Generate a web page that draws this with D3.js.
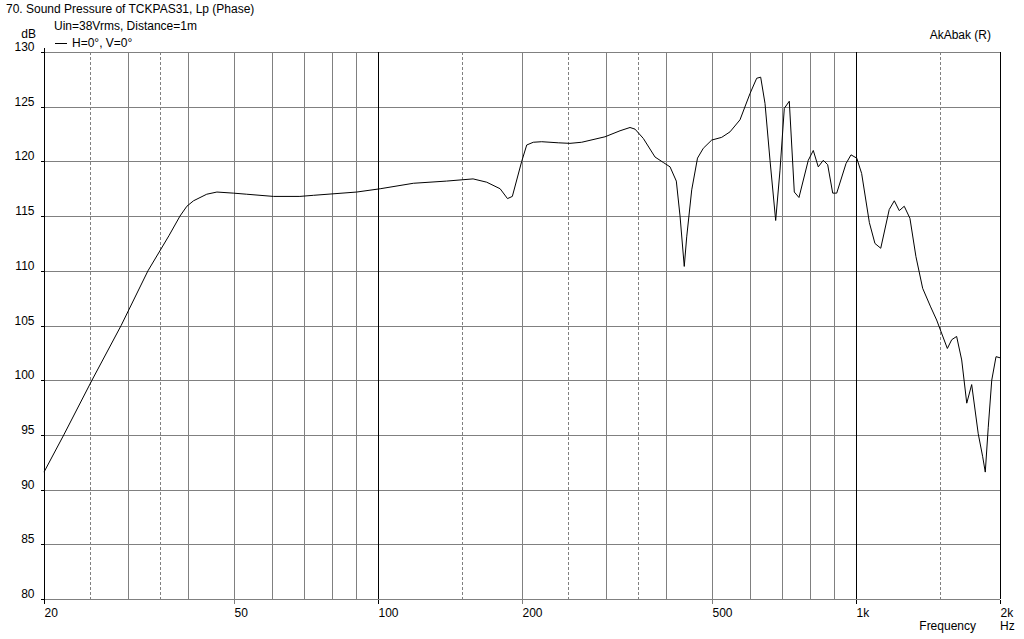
<!DOCTYPE html>
<html>
<head>
<meta charset="utf-8">
<script src="https://cdn.jsdelivr.net/npm/d3@7"></script>
<style>
  html, body { margin: 0; padding: 0; background: #fff; }
  svg { display: block; font-family: "Liberation Sans", Arial, sans-serif; font-size: 12px; }
</style>
</head>
<body>
<svg id="chart" width="1024" height="639"></svg>
<script>
// ---- data ----
const freq = [20, 22.0, 25.2, 29.0, 33.0, 36.5, 38.5, 39.8, 41.1, 43.8, 46.0, 49.8, 53.1, 60.4, 68.6, 73.2, 90.2, 101, 118.5, 139, 158, 168.7, 180, 186.5, 190.9, 199.7, 204.6, 211.2, 219.9, 238.2, 252, 266.6, 298.3, 320.7, 336.5, 344.7, 358.8, 379.6, 395.1, 408.1, 420.6, 428.2, 437.0, 442.2, 453.0, 465.8, 479, 498.8, 523.4, 544.7, 571.6, 599.8, 619.5, 631.5, 644.8, 660.5, 678.8, 693.1, 707.6, 724.8, 742.5, 759.4, 794.2, 813.6, 833.4, 853.7, 872, 893.4, 910.8, 952.5, 975.7, 1003, 1027, 1066, 1095, 1126, 1173, 1202, 1231, 1261, 1296, 1334, 1378, 1432, 1474, 1552, 1585, 1623, 1663, 1704, 1745, 1801, 1840, 1863, 1890, 1922, 1962, 2000];
const spl = [91.6, 95.0, 100.0, 105.0, 110.0, 113.2, 115.0, 115.9, 116.4, 117.0, 117.2, 117.1, 117.0, 116.8, 116.8, 116.9, 117.2, 117.5, 118.0, 118.2, 118.4, 118.1, 117.5, 116.6, 116.8, 120.0, 121.5, 121.75, 121.8, 121.7, 121.65, 121.75, 122.25, 122.8, 123.1, 122.95, 122.1, 120.4, 119.9, 119.5, 118.2, 115.0, 110.4, 113.1, 117.4, 120.3, 121.2, 121.95, 122.2, 122.7, 123.8, 126.2, 127.6, 127.7, 125.3, 120.1, 114.6, 119.2, 124.85, 125.5, 117.2, 116.7, 120.1, 121.0, 119.5, 120.1, 119.7, 117.1, 117.1, 119.8, 120.6, 120.3, 118.9, 114.4, 112.5, 112.06, 115.6, 116.4, 115.5, 115.9, 114.8, 111.3, 108.4, 106.7, 105.5, 102.9, 103.7, 104.0, 101.85, 97.9, 99.6, 95.1, 93.0, 91.6, 95.7, 100.0, 102.15, 102.05];

const yTicks = [80, 85, 90, 95, 100, 105, 110, 115, 120, 125, 130];
const xTickValues = [20, 50, 100, 200, 500, 1000, 2000];
const xTickLabels = ["20", "50", "100", "200", "500", "1k", "2k"];
const gridSolid = [30, 40, 50, 60, 70, 80, 90, 200, 300, 400, 500, 600, 700, 800, 900];
const gridDashed = [25, 35, 150, 250, 350, 1500];
const gridMajor = [100, 1000, 2000];

const titleText = "70. Sound Pressure of TCKPAS31, Lp (Phase)";
const subText = "Uin=38Vrms, Distance=1m";
const legendText = "H=0°, V=0°";
const brandText = "AkAbak (R)";

// ---- scales ----
const x = d3.scaleLog().domain([20, 2000]).range([44, 1000]);
const y = d3.scaleLinear().domain([80, 130]).range([599, 52]);
const px = v => Math.round(v) + 0.5;

const svg = d3.select("#chart");
svg.append("rect").attr("width", 1024).attr("height", 639).attr("fill", "#fff");

const grid = svg.append("g").attr("shape-rendering", "crispEdges");

// horizontal grid
grid.selectAll("line.h").data(yTicks).join("line")
  .attr("x1", 44).attr("x2", 1000)
  .attr("y1", d => px(y(d))).attr("y2", d => px(y(d)))
  .attr("stroke", "#808080");

// vertical grid
grid.selectAll("line.vs").data(gridSolid).join("line")
  .attr("x1", d => px(x(d))).attr("x2", d => px(x(d)))
  .attr("y1", y(130)).attr("y2", y(80))
  .attr("stroke", "#808080");
grid.selectAll("line.vd").data(gridDashed).join("line")
  .attr("x1", d => px(x(d))).attr("x2", d => px(x(d)))
  .attr("y1", y(130)).attr("y2", y(80))
  .attr("stroke", "#808080").attr("stroke-dasharray", "3,2");
grid.selectAll("line.vm").data(gridMajor).join("line")
  .attr("x1", d => px(x(d))).attr("x2", d => px(x(d)))
  .attr("y1", y(130)).attr("y2", y(80))
  .attr("stroke", "#000");
// left axis line
grid.append("line").attr("x1", px(44)).attr("x2", px(44))
  .attr("y1", y(130) - 4).attr("y2", y(80) + 4).attr("stroke", "#000");

// y axis
const yAxis = svg.append("g").attr("transform", `translate(${px(44)},0)`)
  .call(d3.axisLeft(y).tickValues(yTicks).tickSize(4).tickPadding(6).tickFormat(d3.format("d")));
yAxis.select(".domain").remove();
yAxis.selectAll(".tick line").attr("stroke", "#000").attr("shape-rendering", "crispEdges");
yAxis.selectAll(".tick").attr("transform", d => `translate(0,${px(y(d))})`);
yAxis.selectAll(".tick text").attr("font-family", "Liberation Sans, Arial, sans-serif")
  .attr("font-size", 12).attr("fill", "#000").attr("dy", "-0.1em").attr("x", -10);

// x axis
const xAxis = svg.append("g").attr("transform", `translate(0,${px(y(80))})`)
  .call(d3.axisBottom(x).tickValues(xTickValues).tickSize(4).tickPadding(6)
    .tickFormat((d, i) => xTickLabels[i]));
xAxis.select(".domain").remove();
xAxis.selectAll(".tick").attr("transform", d => `translate(${px(x(d))},0)`);
xAxis.selectAll(".tick line").attr("shape-rendering", "crispEdges")
  .attr("stroke", d => (d === 100 || d === 1000 || d === 2000 || d === 20) ? "#000" : "#808080");
xAxis.selectAll(".tick text").attr("font-family", "Liberation Sans, Arial, sans-serif")
  .attr("font-size", 12).attr("fill", "#000").attr("text-anchor", "start")
  .attr("x", 0).attr("y", 0).attr("dy", 17);

// curve
const pts = freq.map((f, i) => [f, spl[i]]);
svg.append("path").datum(pts)
  .attr("fill", "none").attr("stroke", "#000").attr("stroke-width", 1)
  .attr("stroke-linejoin", "round")
  .attr("d", d3.line().x(d => x(d[0])).y(d => y(d[1])));

// texts
const t = (txt, xx, yy, anchor) => svg.append("text").attr("x", xx).attr("y", yy)
  .attr("text-anchor", anchor || "start").attr("fill", "#000").text(txt);
t(titleText, 6, 12.5);
t(subText, 54, 29.5);
t("dB", 36, 38, "end");
svg.append("line").attr("x1", 55).attr("x2", 67).attr("y1", 43.5).attr("y2", 43.5)
  .attr("stroke", "#000").attr("shape-rendering", "crispEdges");
t(legendText, 72, 46.5);
t(brandText, 991, 39, "end");
t("Frequency", 976, 630, "end");
t("Hz", 1000, 630);
</script>
</body>
</html>
